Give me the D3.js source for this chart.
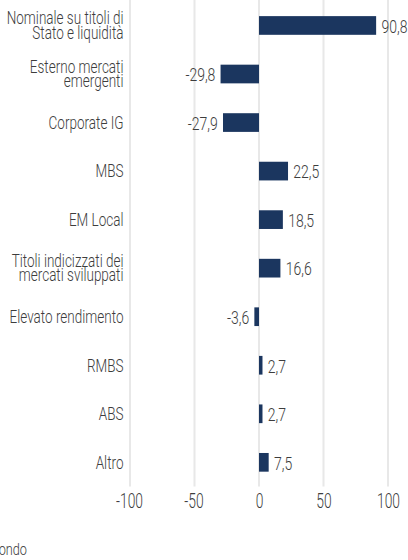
<!DOCTYPE html>
<html>
<head>
<meta charset="utf-8">
<script src="https://cdn.jsdelivr.net/npm/d3@7/dist/d3.min.js"></script>
<style>
  html, body { margin: 0; padding: 0; background: #ffffff; }
  svg { display: block; }
  text { font-family: Roboto, "Liberation Sans Narrow", "DejaVu Sans Condensed", sans-serif; font-weight: 300; fill: #3d3d3d; }
</style>
</head>
<body>
<svg id="chart" width="408" height="560"></svg>
<script>
const categories = [
  ["Nominale su titoli di", "Stato e liquidità"],
  ["Esterno mercati", "emergenti"],
  ["Corporate IG"],
  ["MBS"],
  ["EM Local"],
  ["Titoli indicizzati dei", "mercati sviluppati"],
  ["Elevato rendimento"],
  ["RMBS"],
  ["ABS"],
  ["Altro"]
];
const values = [90.8, -29.8, -27.9, 22.5, 18.5, 16.6, -3.6, 2.7, 2.7, 7.5];
const tickValues = [-100, -50, 0, 50, 100];
const footerText = "Fondo";

const W = 408, H = 560;
const svg = d3.select("#chart");
const locale = d3.formatLocale({decimal: ",", thousands: ".", grouping: [3], currency: ["€", ""], minus: "-"});
const fmt1 = locale.format(".1f");
const fmt0 = locale.format("d");

const ids = categories.map((c, i) => i);
const x = d3.scaleLinear().domain([-100, 100]).range([130, 388]);
const y = d3.scaleBand().domain(ids).range([1.2, 486.6]).paddingInner(0.615).paddingOuter(0.3075);

// helper: measure width of a string at font size
function measure(str, size) {
  const t = svg.append("text").attr("font-size", size).text(str);
  const w = t.node().getComputedTextLength();
  t.remove();
  return w;
}
const labelSize = 17.5, valueSize = 17.5, tickSize = 21;
const sxLabel = 114 / measure("Elevato rendimento", labelSize);
const sxValue = 26 / measure("22,5", valueSize);
const sxTick = 27 / measure("-100", tickSize);

// gridlines
svg.append("g").selectAll("line").data(tickValues).join("line")
  .attr("x1", d => x(d)).attr("x2", d => x(d))
  .attr("y1", 0).attr("y2", 486.5)
  .attr("stroke", "#e8e8e8").attr("stroke-width", 2);

// bars
svg.append("g").selectAll("rect").data(values).join("rect")
  .attr("x", d => x(Math.min(0, d)))
  .attr("width", d => Math.abs(x(d) - x(0)))
  .attr("y", (d, i) => y(i))
  .attr("height", y.bandwidth())
  .attr("fill", "#1b365f");

// category labels
const catG = svg.append("g");
categories.forEach((lines, i) => {
  const cy = y(i) + y.bandwidth() / 2;
  const baselines = lines.length === 1 ? [cy + 6.3] : [cy - 1.3, cy + 13.1];
  lines.forEach((ln, j) => {
    catG.append("text")
      .attr("transform", `translate(123.5,${baselines[j]}) scale(${sxLabel},1)`)
      .attr("text-anchor", "end")
      .attr("font-size", labelSize)
      .text(ln);
  });
});

// value labels
svg.append("g").selectAll("text").data(values).join("text")
  .attr("transform", (d, i) => {
    const cy = y(i) + y.bandwidth() / 2 + 7.3;
    const xx = d >= 0 ? x(d) + 5.3 : x(d) - 5.2;
    return `translate(${xx},${cy}) scale(${sxValue},1)`;
  })
  .attr("text-anchor", d => d >= 0 ? "start" : "end")
  .attr("font-size", valueSize)
  .text(d => fmt1(d));

// x axis tick labels
svg.append("g").selectAll("text").data(tickValues).join("text")
  .attr("transform", d => `translate(${x(d) - (d < 0 ? 1 : 0) + 0.5},508) scale(${sxTick},1)`)
  .attr("text-anchor", "middle")
  .attr("font-size", tickSize)
  .text(d => fmt0(d));

// footer (clipped at left edge)
svg.append("text")
  .attr("transform", `translate(27,555) scale(${sxLabel},1)`)
  .attr("text-anchor", "end")
  .attr("font-size", 16.5)
  .text(footerText);
</script>
</body>
</html>
